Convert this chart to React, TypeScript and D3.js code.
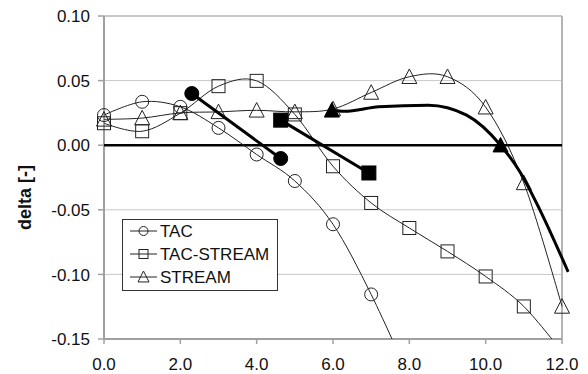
import React from "react";
import * as d3 from "d3";

const xTicks = [0, 2, 4, 6, 8, 10, 12];
const yTicks = [-0.15, -0.1, -0.05, 0, 0.05, 0.1];

const tacX = [0, 1, 2, 3, 4, 5, 6, 7, 8];
const tacY = [0.0233, 0.0336, 0.0297, 0.0134, -0.0072, -0.0277, -0.0612, -0.1155, -0.18];

const tsX = [0, 1, 2, 3, 4, 5, 6, 7, 8, 9, 10, 11, 12];
const tsY = [0.017, 0.0108, 0.0248, 0.0457, 0.0498, 0.0238, -0.0163, -0.0447, -0.0641, -0.0822, -0.1016, -0.1248, -0.16];

const stX = [0, 1, 2, 3, 4, 5, 6, 7, 8, 9, 10, 11, 12];
const stY = [0.02, 0.021, 0.025, 0.0258, 0.027, 0.0258, 0.028, 0.0408, 0.053, 0.053, 0.0294, -0.0292, -0.1248];

const tacBoldX = [2.3, 4.63];
const tacBoldY = [0.04, -0.0103];

const tsBoldX = [4.63, 6.94];
const tsBoldY = [0.0194, -0.0215];

const stBoldX = [5.97, 6.3, 7.2, 8.5, 9.5, 10.39, 10.9, 11.42, 12.16];
const stBoldY = [0.027, 0.0262, 0.0297, 0.031, 0.0233, 0.0, -0.0207, -0.05, -0.098];
const stBoldMarkX = [5.97, 10.39];
const stBoldMarkY = [0.027, 0.0];

const legendLabels = ["TAC", "TAC-STREAM", "STREAM"];

const FONT = "'Liberation Sans', Arial, sans-serif";
const INK = "#222";

type Kind = "circle" | "square" | "triangle";

function Marker({ kind, cx, cy, s, filled }: { kind: Kind; cx: number; cy: number; s: number; filled?: boolean }) {
  const fill = filled ? "#000" : "none";
  const stroke = filled ? "#000" : INK;
  if (kind === "circle") return <circle cx={cx} cy={cy} r={s / 2} fill={fill} stroke={stroke} strokeWidth={1} />;
  if (kind === "square")
    return <rect x={cx - s / 2} y={cy - s / 2} width={s} height={s} fill={fill} stroke={stroke} strokeWidth={1} />;
  const h = s * 0.9;
  const pts = `${cx},${cy - h / 2 - 1} ${cx - s / 2},${cy + h / 2} ${cx + s / 2},${cy + h / 2}`;
  return <polygon points={pts} fill={fill} stroke={stroke} strokeWidth={1} />;
}

export default function App() {
  const W = 588, H = 374;
  const x = d3.scaleLinear().domain([0, 12]).range([104, 562]);
  const y = d3.scaleLinear().domain([-0.15, 0.1]).range([339, 16]);

  const smooth = d3.line<[number, number]>().x((d) => x(d[0])).y((d) => y(d[1])).curve(d3.curveCardinal.tension(0));
  const straight = d3.line<[number, number]>().x((d) => x(d[0])).y((d) => y(d[1]));
  const mono = d3.line<[number, number]>().x((d) => x(d[0])).y((d) => y(d[1])).curve(d3.curveMonotoneX);

  const zip = (a: number[], b: number[]) => a.map((v, i) => [v, b[i]] as [number, number]);

  const thin: { pts: [number, number][]; kind: Kind }[] = [
    { pts: zip(tacX, tacY), kind: "circle" },
    { pts: zip(tsX, tsY), kind: "square" },
    { pts: zip(stX, stY), kind: "triangle" },
  ];

  const sizes: Record<Kind, number> = { circle: 13, square: 13, triangle: 15 };
  const [x0, x1] = x.range();
  const [yb, yt] = y.range();

  return (
    <svg width={W} height={H} style={{ position: "absolute", left: 0, top: 0, background: "#fff" }} fontFamily={FONT}>
      <defs>
        <clipPath id="plot">
          <rect x={x0 - 10} y={yt - 10} width={W - x0 + 10} height={yb - yt + 10} />
        </clipPath>
      </defs>
      <rect width={W} height={H} fill="#fff" />
      {/* gridlines */}
      {yTicks.filter((t) => t !== 0 && t !== -0.15 && t !== 0.1).map((t) => (
        <line key={t} x1={x0} x2={x1} y1={y(t)} y2={y(t)} stroke="#c8c8c8" strokeWidth={1} />
      ))}
      <line x1={x0} x2={x1} y1={y(0.1)} y2={y(0.1)} stroke="#b4b4b4" strokeWidth={1.5} />
      <line x1={x1} x2={x1} y1={yt} y2={yb} stroke="#b4b4b4" strokeWidth={2} />
      {/* axes */}
      <line x1={x0} x2={x1} y1={yb} y2={yb} stroke="#a0a0a0" strokeWidth={2} />
      <line x1={x0} x2={x0} y1={yt} y2={yb} stroke="#a0a0a0" strokeWidth={2} />
      {yTicks.map((t) => (
        <g key={t}>
          <line x1={x0 - 6} x2={x0} y1={y(t)} y2={y(t)} stroke="#a0a0a0" strokeWidth={1.5} />
          <text x={90} y={y(t)} dy="0.36em" textAnchor="end" fontSize={17} fill="#111">
            {t.toFixed(2)}
          </text>
        </g>
      ))}
      {xTicks.map((t) => (
        <g key={t}>
          <line x1={x(t)} x2={x(t)} y1={yb} y2={yb + 5} stroke="#a0a0a0" strokeWidth={1.5} />
          <text x={x(t)} y={370} textAnchor="middle" fontSize={17} fill="#111">
            {t.toFixed(1)}
          </text>
        </g>
      ))}
      <text transform={`translate(31,${(yt + yb) / 2 + 20}) rotate(-90)`} textAnchor="middle" fontSize={18} fontWeight="bold" fill="#111">
        delta [-]
      </text>
      {/* zero line */}
      <line x1={x0} x2={x1} y1={y(0)} y2={y(0)} stroke="#000" strokeWidth={2.6} />

      <g clipPath="url(#plot)">
        {thin.map((s, i) => (
          <path key={i} d={smooth(s.pts) || ""} fill="none" stroke={INK} strokeWidth={1} />
        ))}
        {thin.map((s, i) =>
          s.pts.map((p, j) => <Marker key={`${i}-${j}`} kind={s.kind} cx={x(p[0])} cy={y(p[1])} s={sizes[s.kind]} />)
        )}
      </g>

      {/* bold lines */}
      <path d={straight(zip(tacBoldX, tacBoldY)) || ""} fill="none" stroke="#000" strokeWidth={3} />
      <path d={straight(zip(tsBoldX, tsBoldY)) || ""} fill="none" stroke="#000" strokeWidth={3} />
      <path d={mono(zip(stBoldX, stBoldY)) || ""} fill="none" stroke="#000" strokeWidth={3} />
      {zip(tacBoldX, tacBoldY).map((p, j) => (
        <Marker key={`bc${j}`} kind="circle" cx={x(p[0])} cy={y(p[1])} s={14} filled />
      ))}
      {zip(tsBoldX, tsBoldY).map((p, j) => (
        <Marker key={`bs${j}`} kind="square" cx={x(p[0])} cy={y(p[1])} s={14} filled />
      ))}
      {zip(stBoldMarkX, stBoldMarkY).map((p, j) => (
        <Marker key={`bt${j}`} kind="triangle" cx={x(p[0])} cy={y(p[1])} s={15} filled />
      ))}

      {/* legend */}
      <rect x={122.5} y={219.5} width={155} height={71} fill="#fff" stroke="#333" strokeWidth={1} />
      {legendLabels.map((lab, i) => {
        const cy = 231 + i * 23;
        const kind: Kind = (["circle", "square", "triangle"] as Kind[])[i];
        return (
          <g key={lab}>
            <line x1={130} x2={157} y1={cy} y2={cy} stroke={INK} strokeWidth={1} />
            <Marker kind={kind} cx={143.5} cy={cy} s={kind === "triangle" ? 11 : 9} />
            <text x={160} y={cy} dy="0.36em" fontSize={17} fill="#111">
              {lab}
            </text>
          </g>
        );
      })}
    </svg>
  );
}
